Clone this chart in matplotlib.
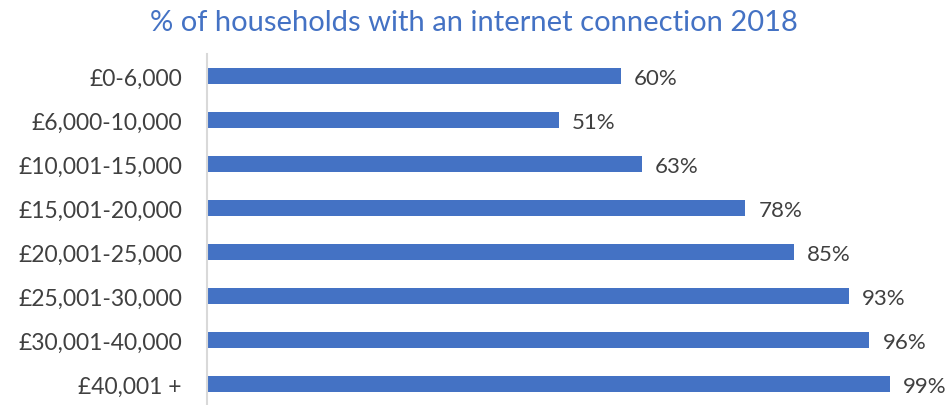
import matplotlib
matplotlib.use('Agg')
import matplotlib.pyplot as plt

# income bands and share of households with internet
bands = ['£0-6,000', '£6,000-10,000', '£10,001-15,000', '£15,001-20,000',
         '£20,001-25,000', '£25,001-30,000', '£30,001-40,000', '£40,001 +']
pct = [60, 51, 63, 78, 85, 93, 96, 99]

plt.rcParams['font.family'] = ['Lato', 'DejaVu Sans']
blue = '#4472C4'
grey = '#404040'

fig = plt.figure(figsize=(9.49, 4.06), dpi=100)
ax = fig.add_axes([207/949, -1/406, 690/949, 352/406])

ypos = list(range(len(bands)))
ax.barh(ypos, pct, height=0.36, color=blue)
ax.set_ylim(len(bands) - 0.5, -0.5)
ax.set_xlim(0, 100)
ax.set_yticks(ypos)
ax.set_yticklabels(bands, fontsize=16.5, color=grey)
ax.tick_params(axis='y', length=0, pad=18)
ax.set_xticks([])

for y, v in zip(ypos, pct):
    ax.text(v + 1.9, y + 0.05, f'{v}%', va='center', ha='left', fontsize=16, color=grey)

for s in ['top', 'right', 'bottom']:
    ax.spines[s].set_visible(False)
ax.spines['left'].set_color('#D9D9D9')
ax.spines['left'].set_linewidth(1.5)

fig.text(474/949, 1 - 23/406, '% of households with an internet connection 2018',
         ha='center', va='center', fontsize=21, color=blue)

fig.savefig('out.png', dpi=100)
